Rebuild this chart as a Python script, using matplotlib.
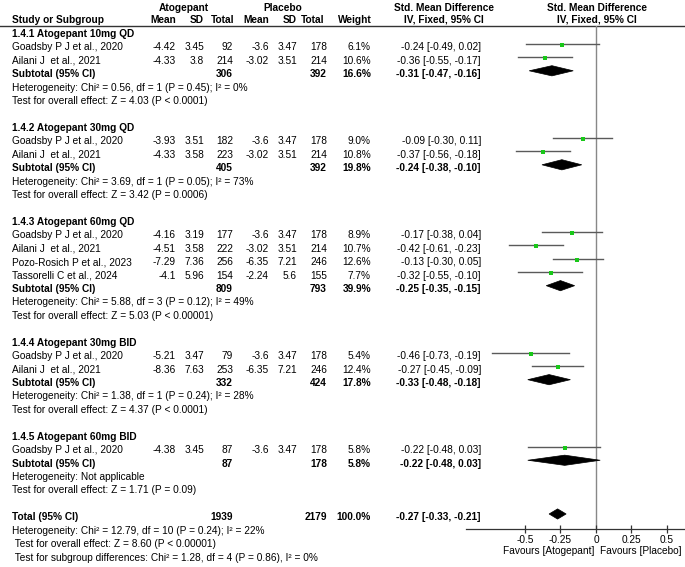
import matplotlib
matplotlib.use('Agg')
import matplotlib.pyplot as plt
from matplotlib.patches import Polygon

plt.rcParams['font.family'] = ['Liberation Sans', 'DejaVu Sans']

# ---- data ----
group_names = ['1.4.1 Atogepant 10mg QD', '1.4.2 Atogepant 30mg QD',
               '1.4.3 Atogepant 60mg QD', '1.4.4 Atogepant 30mg BID',
               '1.4.5 Atogepant 60mg BID']
study_group = [0, 0, 1, 1, 2, 2, 2, 2, 3, 3, 4]
study_names = ['Goadsby P J et al., 2020', 'Ailani J  et al., 2021',
               'Goadsby P J et al., 2020', 'Ailani J  et al., 2021',
               'Goadsby P J et al., 2020', 'Ailani J  et al., 2021',
               'Pozo-Rosich P et al., 2023', 'Tassorelli C et al., 2024',
               'Goadsby P J et al., 2020', 'Ailani J  et al., 2021',
               'Goadsby P J et al., 2020']
atog_mean = [-4.42, -4.33, -3.93, -4.33, -4.16, -4.51, -7.29, -4.1, -5.21, -8.36, -4.38]
atog_sd = [3.45, 3.8, 3.51, 3.58, 3.19, 3.58, 7.36, 5.96, 3.47, 7.63, 3.45]
atog_n = [92, 214, 182, 223, 177, 222, 256, 154, 79, 253, 87]
plac_mean = [-3.6, -3.02, -3.6, -3.02, -3.6, -3.02, -6.35, -2.24, -3.6, -6.35, -3.6]
plac_sd = [3.47, 3.51, 3.47, 3.51, 3.47, 3.51, 7.21, 5.6, 3.47, 7.21, 3.47]
plac_n = [178, 214, 178, 214, 178, 214, 246, 155, 178, 246, 178]
weight = [6.1, 10.6, 9.0, 10.8, 8.9, 10.7, 12.6, 7.7, 5.4, 12.4, 5.8]
smd = [-0.24, -0.36, -0.09, -0.37, -0.17, -0.42, -0.13, -0.32, -0.46, -0.27, -0.22]
ci_lo = [-0.49, -0.55, -0.30, -0.56, -0.38, -0.61, -0.30, -0.55, -0.73, -0.45, -0.48]
ci_hi = [0.02, -0.17, 0.11, -0.18, 0.04, -0.23, 0.05, -0.10, -0.19, -0.09, 0.03]

sub_atog_n = [306, 405, 809, 332, 87]
sub_plac_n = [392, 392, 793, 424, 178]
sub_weight = [16.6, 19.8, 39.9, 17.8, 5.8]
sub_smd = [-0.31, -0.24, -0.25, -0.33, -0.22]
sub_lo = [-0.47, -0.38, -0.35, -0.48, -0.48]
sub_hi = [-0.16, -0.10, -0.15, -0.18, 0.03]
sub_het = ['Heterogeneity: Chi\u00b2 = 0.56, df = 1 (P = 0.45); I\u00b2 = 0%',
           'Heterogeneity: Chi\u00b2 = 3.69, df = 1 (P = 0.05); I\u00b2 = 73%',
           'Heterogeneity: Chi\u00b2 = 5.88, df = 3 (P = 0.12); I\u00b2 = 49%',
           'Heterogeneity: Chi\u00b2 = 1.38, df = 1 (P = 0.24); I\u00b2 = 28%',
           'Heterogeneity: Not applicable']
sub_effect = ['Test for overall effect: Z = 4.03 (P < 0.0001)',
              'Test for overall effect: Z = 3.42 (P = 0.0006)',
              'Test for overall effect: Z = 5.03 (P < 0.00001)',
              'Test for overall effect: Z = 4.37 (P < 0.0001)',
              'Test for overall effect: Z = 1.71 (P = 0.09)']

total_atog_n = 1939
total_plac_n = 2179
total_weight = 100.0
total_smd = -0.27
total_lo = -0.33
total_hi = -0.21
total_notes = ['Heterogeneity: Chi\u00b2 = 12.79, df = 10 (P = 0.24); I\u00b2 = 22%',
               ' Test for overall effect: Z = 8.60 (P < 0.00001)',
               ' Test for subgroup differences: Chi\u00b2 = 1.28, df = 4 (P = 0.86), I\u00b2 = 0%']

x_ticks = [-0.5, -0.25, 0, 0.25, 0.5]
x_tick_labels = ['-0.5', '-0.25', '0', '0.25', '0.5']

# ---- layout ----
W, H = 685, 567
FS = 7.3
ROW0 = 30.5     # pixel y of first row line
PITCH = 13.43   # pixel distance between rows
TXT_OFF = 3.3   # text sits slightly below the line level

fig = plt.figure(figsize=(W / 100, H / 100), dpi=100)
fig.patch.set_facecolor('white')

axt = fig.add_axes([0, 0, 1, 1])
axt.set_xlim(0, W)
axt.set_ylim(H, 0)
axt.axis('off')

# forest panel (x in SMD units, y in row index)
fx0, fx1 = 466, 685
fy0, fy1 = 26, 529
axf = fig.add_axes([fx0 / W, 1 - fy1 / H, (fx1 - fx0) / W, (fy1 - fy0) / H])
axf.set_xlim(-0.915, 0.627)
axf.set_ylim((fy1 - ROW0) / PITCH, (fy0 - ROW0) / PITCH)
axf.patch.set_alpha(0)
for s in ['top', 'right', 'left']:
    axf.spines[s].set_visible(False)
axf.spines['bottom'].set_color('#333333')
axf.spines['bottom'].set_linewidth(0.9)
axf.set_yticks([])
axf.set_xticks(x_ticks)
axf.set_xticklabels(x_tick_labels, fontsize=FS)
axf.tick_params(axis='x', direction='inout', length=6, width=0.9, color='#333333', pad=1)
axf.axvline(0, color='#888888', lw=1.0, zorder=1)


def ty(i):
    return ROW0 + PITCH * i + TXT_OFF


col_mean_a, col_sd_a, col_n_a = 176, 204, 233
col_mean_p, col_sd_p, col_n_p = 269, 297, 327
col_w = 371
col_ci = 481


def row_text(i, name, ma, sa, na, mp, sp, npl, w, est, lo, hi, bold=False):
    fw = 'bold' if bold else 'normal'
    y = ty(i)
    axt.text(12, y, name, ha='left', va='center', fontsize=FS, fontweight=fw)
    for x, v in [(col_mean_a, ma), (col_sd_a, sa), (col_n_a, na),
                 (col_mean_p, mp), (col_sd_p, sp), (col_n_p, npl)]:
        if v is not None:
            axt.text(x, y, f'{v:g}', ha='right', va='center', fontsize=FS, fontweight=fw)
    axt.text(col_w, y, f'{w:.1f}%', ha='right', va='center', fontsize=FS, fontweight=fw)
    axt.text(col_ci, y, f'{est:.2f} [{lo:.2f}, {hi:.2f}]', ha='right', va='center',
             fontsize=FS, fontweight=fw)


def diamond(i, est, lo, hi):
    h = 0.38
    axf.add_patch(Polygon([(lo, i), (est, i - h), (hi, i), (est, i + h)],
                          closed=True, facecolor='black', edgecolor='black', lw=0.5, zorder=3))


# headers
hdr = dict(fontsize=FS, fontweight='bold', va='center')
axt.text(184, 8, 'Atogepant', ha='center', **hdr)
axt.text(283, 8, 'Placebo', ha='center', **hdr)
axt.text(444, 8, 'Std. Mean Difference', ha='center', **hdr)
axt.text(597, 8, 'Std. Mean Difference', ha='center', **hdr)
axt.text(12, 20, 'Study or Subgroup', ha='left', **hdr)
axt.text(col_mean_a, 20, 'Mean', ha='right', **hdr)
axt.text(col_sd_a, 20, 'SD', ha='right', **hdr)
axt.text(col_n_a + 1, 20, 'Total', ha='right', **hdr)
axt.text(col_mean_p, 20, 'Mean', ha='right', **hdr)
axt.text(col_sd_p, 20, 'SD', ha='right', **hdr)
axt.text(col_n_p - 3, 20, 'Total', ha='right', **hdr)
axt.text(col_w + 1, 20, 'Weight', ha='right', **hdr)
axt.text(444, 20, 'IV, Fixed, 95% CI', ha='center', **hdr)
axt.text(597, 20, 'IV, Fixed, 95% CI', ha='center', **hdr)
axt.plot([0, W], [26, 26], color='#333333', lw=1.0)

# body
row = 0
for g, gname in enumerate(group_names):
    axt.text(12, ty(row), gname, ha='left', va='center', fontsize=FS, fontweight='bold')
    row += 1
    for k in range(len(study_names)):
        if study_group[k] != g:
            continue
        row_text(row, study_names[k], atog_mean[k], atog_sd[k], atog_n[k],
                 plac_mean[k], plac_sd[k], plac_n[k], weight[k], smd[k], ci_lo[k], ci_hi[k])
        axf.plot([ci_lo[k], ci_hi[k]], [row, row], color='#5a5a5a', lw=1.0, zorder=2)
        axf.plot(smd[k], row + 0.08, marker='s', color='#19c819', ms=1.6 + weight[k] * 0.13,
                 mew=0, zorder=4)
        row += 1
    row_text(row, 'Subtotal (95% CI)', None, None, sub_atog_n[g], None, None, sub_plac_n[g],
             sub_weight[g], sub_smd[g], sub_lo[g], sub_hi[g], bold=True)
    diamond(row, sub_smd[g], sub_lo[g], sub_hi[g])
    row += 1
    axt.text(12, ty(row), sub_het[g], ha='left', va='center', fontsize=FS)
    row += 1
    axt.text(12, ty(row), sub_effect[g], ha='left', va='center', fontsize=FS)
    row += 2

row_text(row, 'Total (95% CI)', None, None, total_atog_n, None, None, total_plac_n,
         total_weight, total_smd, total_lo, total_hi, bold=True)
diamond(row, total_smd, total_lo, total_hi)
row += 1
for note in total_notes:
    axt.text(12, ty(row), note, ha='left', va='center', fontsize=FS)
    row += 1

axt.text(594, 551, 'Favours [Atogepant]', ha='right', va='center', fontsize=FS)
axt.text(600, 551, 'Favours [Placebo]', ha='left', va='center', fontsize=FS)

fig.savefig('out.png', dpi=100, facecolor='white')
